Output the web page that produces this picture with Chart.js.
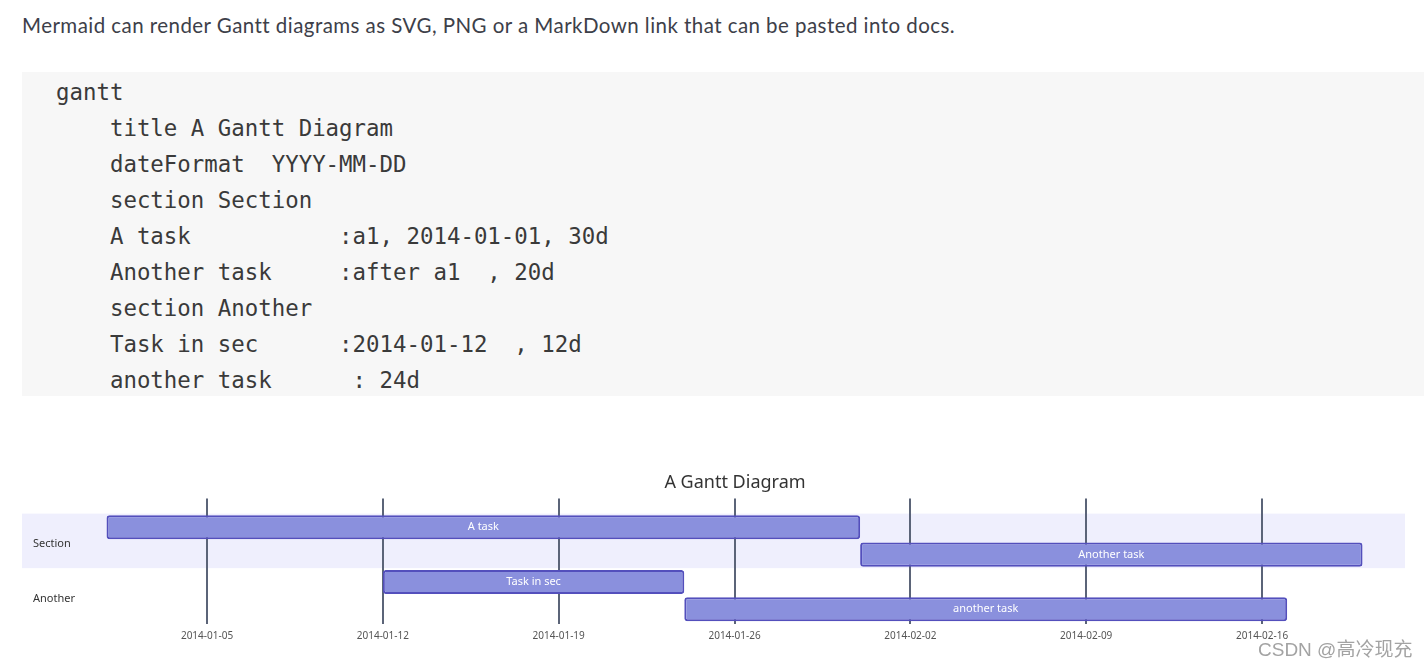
<!DOCTYPE html>
<html>
<head>
<meta charset="utf-8">
<script src="https://cdn.jsdelivr.net/npm/chart.js@4.4.0/dist/chart.umd.min.js"></script>
<style>
  html, body { margin: 0; padding: 0; background: #fff; width: 1424px; height: 665px; overflow: hidden; }
  #intro { position: absolute; left: 22px; top: 13px; font: 20.5px Lato, "Noto Sans", sans-serif; letter-spacing: 0.45px; color: #3d4049; white-space: nowrap; }
  #code { position: absolute; left: 22px; top: 72px; width: 1402px; height: 324px; margin: 0; padding: 2px 0 0 34px;
          box-sizing: border-box; background: #f7f7f7; font: 22.4px/36px "DejaVu Sans Mono", monospace; color: #3a3a3a; }
  #wrap { position: absolute; left: 22px; top: 460px; width: 1426px; height: 181px; }
  #mark { position: absolute; left: 1258px; top: 634px; font: 19px "Liberation Sans", "Noto Sans CJK SC", sans-serif;
          color: #a3a3a3; text-shadow: 0 0 2px #fff, 0 0 2px #fff; white-space: nowrap; }
</style>
</head>
<body>
<div id="intro">Mermaid can render Gantt diagrams as SVG, PNG or a MarkDown link that can be pasted into docs.</div>
<pre id="code">gantt
    title A Gantt Diagram
    dateFormat  YYYY-MM-DD
    section Section
    A task           :a1, 2014-01-01, 30d
    Another task     :after a1  , 20d
    section Another
    Task in sec      :2014-01-12  , 12d
    another task      : 24d</pre>
<div id="wrap"><canvas id="gantt-chart" width="1426" height="181"></canvas></div>
<div id="mark">CSDN @高冷现充</div>
<script>
const taskNames = ['A task', 'Another task', 'Task in sec', 'another task'];
const taskStart = ['2014-01-01', '2014-01-31', '2014-01-12', '2014-01-24'];
const taskDays = [30, 20, 12, 24];
const taskSection = [0, 0, 1, 1];
const sectionNames = ['Section', 'Another'];
const tickDates = ['2014-01-05', '2014-01-12', '2014-01-19', '2014-01-26', '2014-02-02', '2014-02-09', '2014-02-16'];

const DAY = 864e5;
const origin = Date.UTC(2014, 0, 1);
const toDay = s => (Date.parse(s) - origin) / DAY;  // dias desde 2014-01-01
const fmtDay = d => new Date(origin + d * DAY).toISOString().slice(0, 10);

const bars = taskNames.map((_, i) => [toDay(taskStart[i]), toDay(taskStart[i]) + taskDays[i]]);
const tickDays = tickDates.map(toDay);

// bandas de seccion, lineas verticales y etiquetas
const ganttPlugin = {
  id: 'gantt',
  beforeDatasetsDraw(chart) {
    const { ctx, chartArea, scales: { x, y } } = chart;
    const rowH = y.getPixelForValue(1) - y.getPixelForValue(0);
    ctx.save();
    sectionNames.forEach((name, s) => {
      const rows = taskSection.map((v, i) => v === s ? i : -1).filter(i => i >= 0);
      const top = y.getPixelForValue(rows[0]) - rowH / 2;
      const bottom = y.getPixelForValue(rows[rows.length - 1]) + rowH / 2;
      ctx.fillStyle = s % 2 === 0 ? '#efeffd' : '#ffffff';
      ctx.fillRect(chartArea.left, top, chartArea.right - chartArea.left, bottom - top);
      ctx.fillStyle = '#333';
      ctx.font = '11px "Noto Sans", sans-serif';
      ctx.textBaseline = 'middle';
      ctx.textAlign = 'left';
      ctx.fillText(name, chartArea.left + 11, (top + bottom) / 2 + 3);
    });
    ctx.strokeStyle = '#5b6478';
    ctx.lineWidth = 2;
    x.ticks.forEach(t => {
      const px = Math.round(x.getPixelForValue(t.value));
      ctx.beginPath();
      ctx.moveTo(px, chartArea.top - 15);
      ctx.lineTo(px, chartArea.bottom + 1);
      ctx.stroke();
    });
    ctx.restore();
  },
  afterDatasetsDraw(chart) {
    const { ctx } = chart;
    const meta = chart.getDatasetMeta(0);
    ctx.save();
    ctx.fillStyle = '#fff';
    ctx.font = '11px "Noto Sans", sans-serif';
    ctx.textAlign = 'center';
    ctx.textBaseline = 'middle';
    meta.data.forEach((bar, i) => {
      ctx.fillText(taskNames[i], (bar.x + bar.base) / 2, bar.y);
    });
    ctx.restore();
  }
};

new Chart(document.getElementById('gantt-chart'), {
  type: 'bar',
  data: {
    labels: taskNames,
    datasets: [{
      data: bars,
      backgroundColor: '#8a90dd',
      borderColor: '#534fbc',
      borderWidth: 2,
      borderRadius: 3,
      borderSkipped: false,
      barPercentage: 0.88,
      categoryPercentage: 1
    }]
  },
  options: {
    indexAxis: 'y',
    responsive: false,
    animation: false,
    plugins: {
      legend: { display: false },
      tooltip: { enabled: false },
      title: {
        display: true,
        text: 'A Gantt Diagram',
        color: '#333',
        font: { family: '"Noto Sans", sans-serif', size: 18, weight: 'normal' },
        padding: { top: 12, bottom: 20 }
      }
    },
    scales: {
      x: {
        type: 'linear',
        position: 'bottom',
        min: -3.365,
        max: 51.69,
        grid: { display: false },
        border: { display: false },
        afterBuildTicks: scale => { scale.ticks = tickDays.map(v => ({ value: v })); },
        ticks: {
          autoSkip: false,
          maxRotation: 0,
          padding: -1,
          color: '#555',
          font: { family: '"Noto Sans", sans-serif', size: 10 },
          callback: v => fmtDay(v)
        }
      },
      y: {
        position: 'right',
        grid: { display: false },
        border: { display: false },
        ticks: { display: false },
        afterFit: scale => { scale.width = 43; }
      }
    }
  },
  plugins: [ganttPlugin]
});
</script>
</body>
</html>
